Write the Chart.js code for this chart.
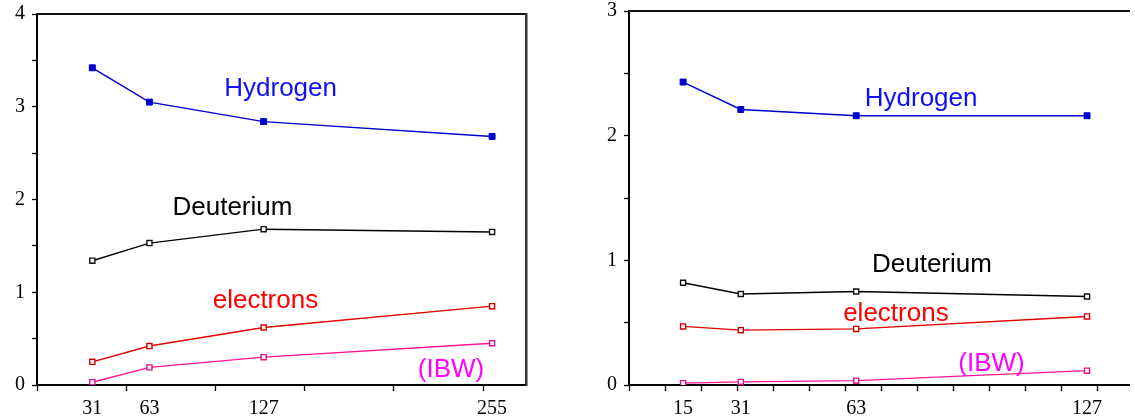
<!DOCTYPE html>
<html>
<head>
<meta charset="utf-8">
<script src="https://cdn.jsdelivr.net/npm/chart.js@4.4.1/dist/chart.umd.min.js"></script>
<style>
  html, body { margin: 0; padding: 0; background: #fff; }
  #wrap { position: relative; width: 1135px; height: 417px; overflow: hidden; }
  #leftBox { position: absolute; left: 0; top: 0; width: 560px; height: 417px; }
  #rightBox { position: absolute; left: 560px; top: 0; width: 575px; height: 417px; }
</style>
</head>
<body>
<div id="wrap">
  <div id="leftBox"><canvas id="leftChart" width="560" height="417"></canvas></div>
  <div id="rightBox"><canvas id="rightChart" width="575" height="417"></canvas></div>
</div>
<script>
// left panel
const leftX = [31, 63, 127, 255];
const leftHydrogen = [3.42, 3.05, 2.84, 2.68];
const leftDeuterium = [1.34, 1.53, 1.68, 1.65];
const leftElectrons = [0.25, 0.42, 0.62, 0.85];
const leftIBW = [0.03, 0.19, 0.30, 0.45];
const leftYTicks = [0, 1, 2, 3, 4];

// right panel
const rightX = [15, 31, 63, 127];
const rightHydrogen = [2.43, 2.21, 2.16, 2.16];
const rightDeuterium = [0.82, 0.73, 0.75, 0.71];
const rightElectrons = [0.47, 0.44, 0.45, 0.55];
const rightIBW = [0.015, 0.025, 0.035, 0.115];
const rightYTicks = [0, 1, 2, 3];

const seriesNames = ['Hydrogen', 'Deuterium', 'electrons', '(IBW)'];

const tickFont = { family: '"Liberation Serif", "Times New Roman", serif', size: 20 };
const nameFont = '26px "Liberation Sans", Arial, sans-serif';

function line(label, xs, ys, color, mark, filled) {
  return {
    label: label,
    data: xs.map((x, i) => ({ x: x, y: ys[i] })),
    borderColor: color,
    borderWidth: 1.4,
    pointStyle: 'rect',
    pointRadius: filled ? 4.2 : 3.6,
    pointBorderColor: mark,
    pointBackgroundColor: filled ? mark : '#fff',
    pointBorderWidth: filled ? 1 : 1.4,
    tension: 0
  };
}

// series names written next to the curves, placed in data units
function namesPlugin(items) {
  return {
    id: 'seriesNames',
    afterDatasetsDraw(chart) {
      const { ctx, scales } = chart;
      ctx.save();
      ctx.font = nameFont;
      ctx.textAlign = 'center';
      ctx.textBaseline = 'alphabetic';
      items.forEach(t => {
        ctx.fillStyle = t.color;
        ctx.fillText(t.text, scales.x.getPixelForValue(t.x), scales.y.getPixelForValue(t.y));
      });
      ctx.restore();
    }
  };
}

function makePanel(id, p) {
  const xTicks = [];
  for (let v = 0; v <= p.xMax; v += p.xStep) xTicks.push(v);
  p.xs.forEach(v => { if (!xTicks.includes(v)) xTicks.push(v); });
  xTicks.sort((a, b) => a - b);

  const yMax = p.yTicks[p.yTicks.length - 1];
  const yAll = [];
  for (let v = 0; v <= yMax; v += 0.5) yAll.push(v);

  const scales = {
    x: {
      type: 'linear', position: 'bottom', min: 0, max: p.xMax,
      afterBuildTicks: s => { s.ticks = xTicks.map(v => ({ value: v })); },
      afterFit: s => { s.height = 32; s.paddingLeft = 0; s.paddingRight = 0; },
      ticks: {
        autoSkip: false, maxRotation: 0, color: '#000', font: tickFont, padding: 6,
        callback: v => p.xs.includes(v) ? String(v) : ''
      },
      grid: {
        drawOnChartArea: false, tickLength: 6, tickWidth: 1.3,
        tickColor: c => (c.tick && c.tick.value % p.xStep === 0) ? '#000' : 'rgba(0,0,0,0)'
      },
      border: { color: '#000', width: 2 }
    },
    y: {
      type: 'linear', position: 'left', min: 0, max: yMax,
      afterBuildTicks: s => { s.ticks = yAll.map(v => ({ value: v })); },
      afterFit: s => { s.width = p.yWidth; s.paddingTop = 0; s.paddingBottom = 0; },
      ticks: {
        autoSkip: false, color: '#000', font: tickFont, padding: 7,
        callback: v => p.yTicks.includes(v) ? String(v) : ''
      },
      grid: { drawOnChartArea: false, tickLength: 5, tickWidth: 1.3, tickColor: '#000' },
      border: { color: '#000', width: 2 }
    },
    top: {
      type: 'linear', position: 'top', min: 0, max: 1,
      afterFit: s => { s.height = 0; },
      ticks: { display: false },
      grid: { drawOnChartArea: false, drawTicks: false },
      border: { color: '#111', width: 2 }
    }
  };
  if (p.frameRight) {
    scales.right = {
      type: 'linear', position: 'right', min: 0, max: 1,
      afterFit: s => { s.width = 0; },
      ticks: { display: false },
      grid: { drawOnChartArea: false, drawTicks: false },
      border: { color: '#333', width: 2.5 }
    };
  }

  return new Chart(document.getElementById(id), {
    type: 'line',
    data: {
      datasets: [
        line(seriesNames[0], p.xs, p.series[0], '#0000cc', '#0000cc', true),
        line(seriesNames[1], p.xs, p.series[1], '#000000', '#111111', false),
        line(seriesNames[2], p.xs, p.series[2], '#e00000', '#d00000', false),
        line(seriesNames[3], p.xs, p.series[3], '#ff1493', '#e0108c', false)
      ]
    },
    options: {
      responsive: false,
      animation: false,
      layout: { padding: p.padding },
      plugins: { legend: { display: false }, tooltip: { enabled: false } },
      scales: scales
    },
    plugins: [namesPlugin(p.names)]
  });
}

makePanel('leftChart', {
  xs: leftX,
  series: [leftHydrogen, leftDeuterium, leftElectrons, leftIBW],
  yTicks: leftYTicks,
  xMax: 274, xStep: 50, yWidth: 37,
  padding: { left: 0, top: 14, right: 34, bottom: 0 },
  frameRight: true,
  names: [
    { text: seriesNames[0], color: '#1010f0', x: 136.5, y: 3.12 },
    { text: seriesNames[1], color: '#000000', x: 109.5, y: 1.83 },
    { text: seriesNames[2], color: '#ff0000', x: 128, y: 0.83 },
    { text: seriesNames[3], color: '#ff00ff', x: 232, y: 0.086 }
  ]
});

makePanel('rightChart', {
  xs: rightX,
  series: [rightHydrogen, rightDeuterium, rightElectrons, rightIBW],
  yTicks: rightYTicks,
  xMax: 138.8, xStep: 10, yWidth: 69,
  padding: { left: 0, top: 11, right: 0, bottom: 0 },
  frameRight: false,
  names: [
    { text: seriesNames[0], color: '#1010f0', x: 81, y: 2.24 },
    { text: seriesNames[1], color: '#000000', x: 84, y: 0.905 },
    { text: seriesNames[2], color: '#ff0000', x: 74, y: 0.51 },
    { text: seriesNames[3], color: '#ff00ff', x: 100.5, y: 0.115 }
  ]
});
</script>
</body>
</html>
